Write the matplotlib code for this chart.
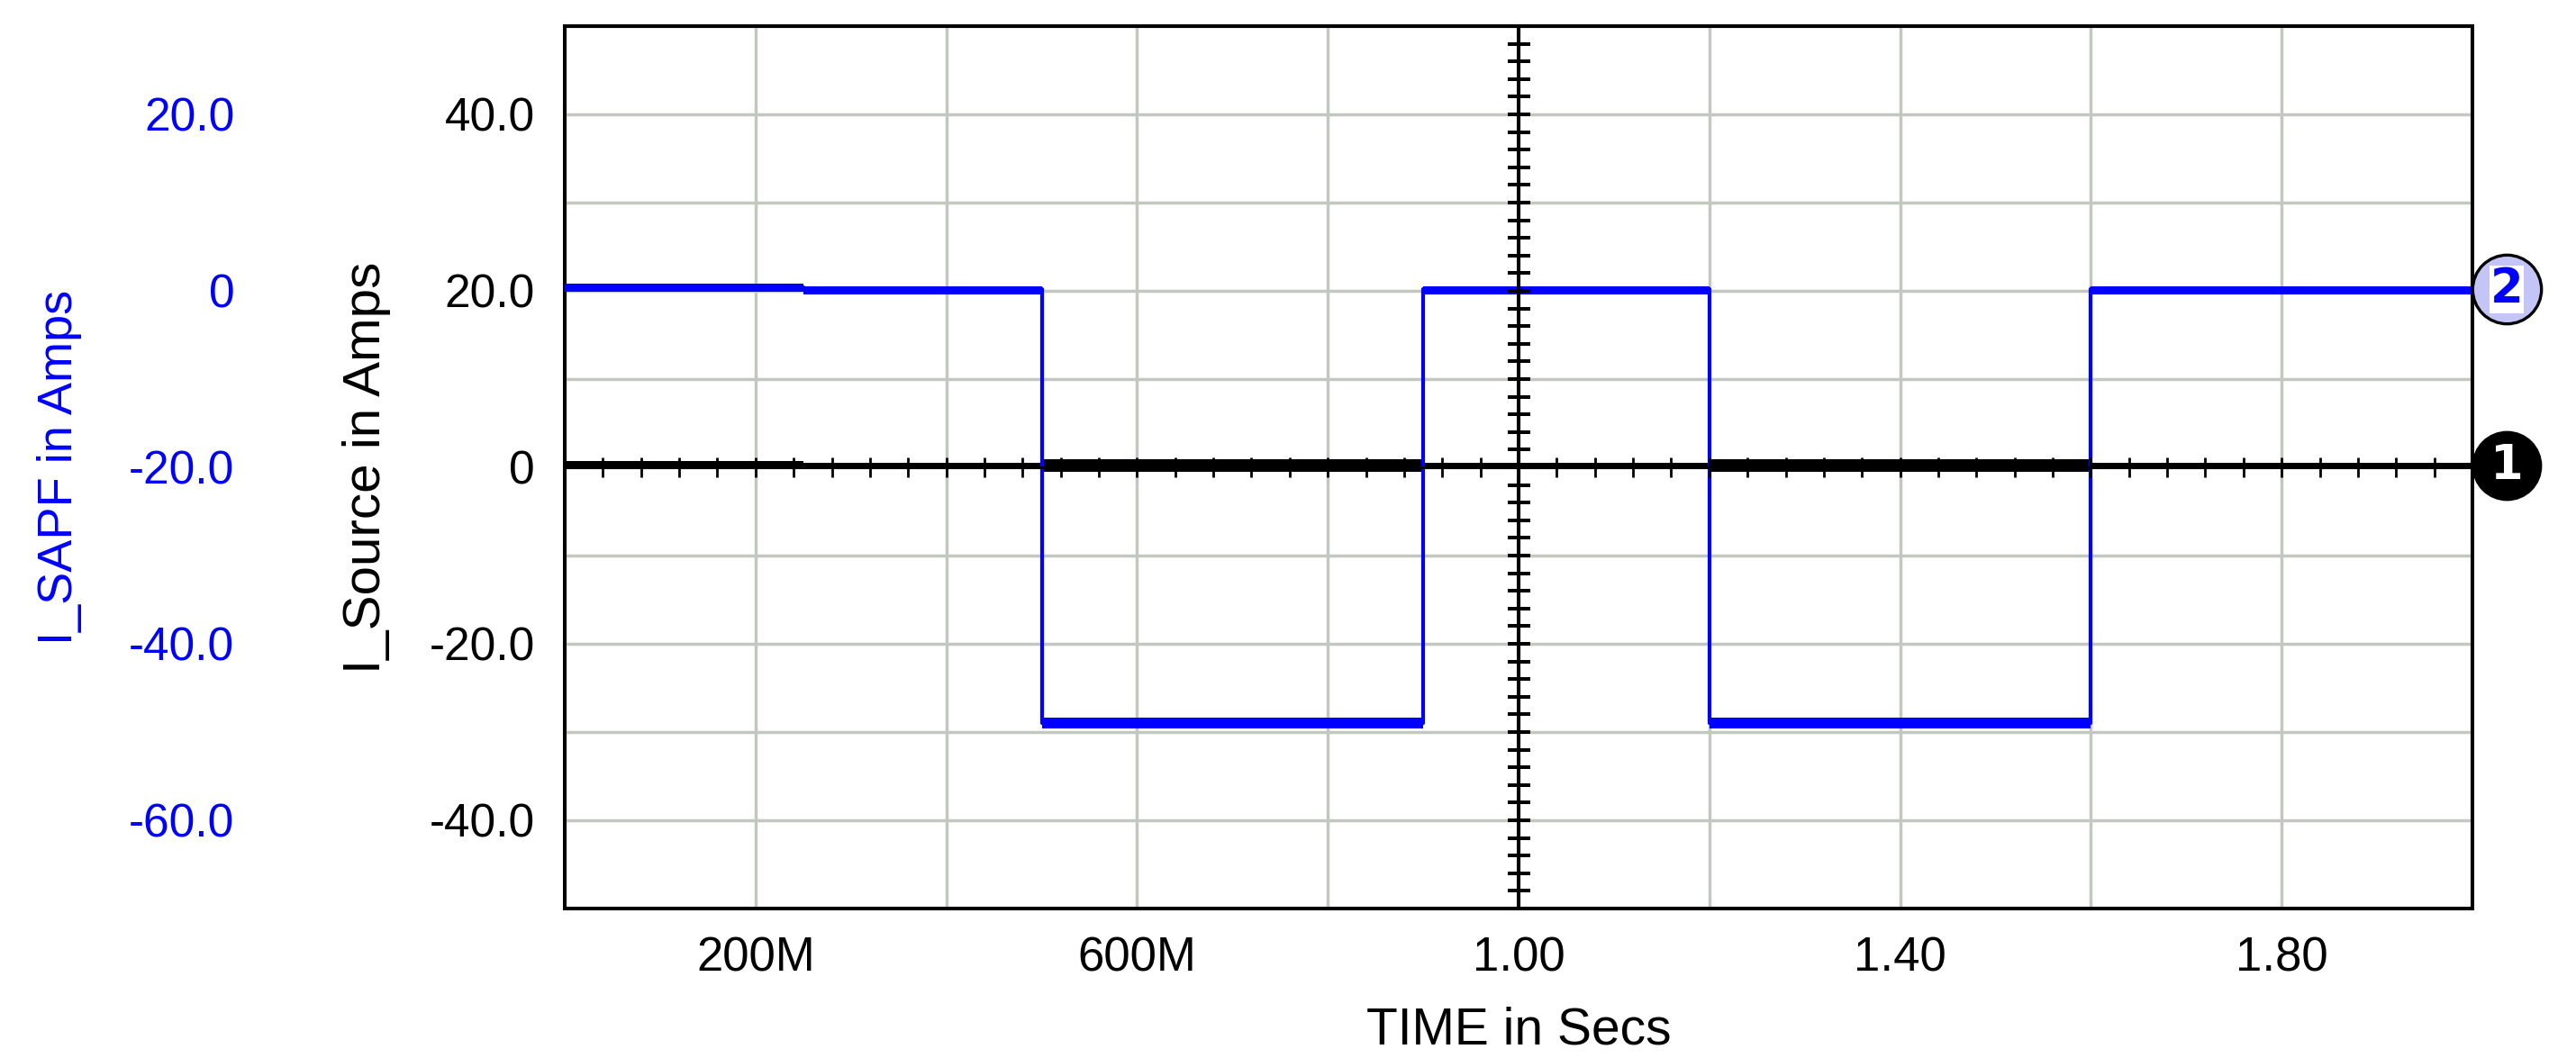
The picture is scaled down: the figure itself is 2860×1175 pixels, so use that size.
import numpy as np
import matplotlib
matplotlib.use("Agg")
import matplotlib.pyplot as plt
from matplotlib import font_manager
from matplotlib import transforms as mtransforms
from matplotlib.ticker import MultipleLocator, FixedLocator, FixedFormatter

# step waveform: one value per segment between edges
TIME_EDGES   = [0.0, 0.25, 0.5, 0.9, 1.2, 1.6, 2.0]
SAPF_LEVEL   = [0.4, 0.2, -49.0, 0.2, -49.0, 0.2]      # I_SAPF (blue axis)
SAPF_LOW     = [-0.1, -0.4, -49.6, -0.4, -49.6, -0.4]  # ripple envelope
SAPF_HIGH    = [0.8, 0.5, -48.4, 0.5, -48.4, 0.5]
SOURCE_LEVEL = [0.3, 0.2, 0.3, 0.2, 0.3, 0.2]          # I_Source (black axis)
SOURCE_LOW   = [-0.2, -0.2, -0.5, -0.2, -0.5, -0.2]
SOURCE_HIGH  = [0.7, 0.5, 0.9, 0.5, 0.9, 0.5]

X_TICKS       = [0.2, 0.6, 1.0, 1.4, 1.8]
X_TICK_LABELS = ["200M", "600M", "1.00", "1.40", "1.80"]
SOURCE_TICKS  = [-40, -20, 0, 20, 40]
SOURCE_LABELS = ["-40.0", "-20.0", "0", "20.0", "40.0"]
SAPF_TICKS    = [-60, -40, -20, 0, 20]
SAPF_LABELS   = ["-60.0", "-40.0", "-20.0", "0", "20.0"]

BLUE = "#0000ff"
GRID = "#c2c8c0"

plt.rcParams["font.family"] = ["Liberation Sans", "DejaVu Sans"]
names = {f.name for f in font_manager.fontManager.ttflist}
NARROW = "Liberation Sans Narrow" if "Liberation Sans Narrow" in names else "Liberation Sans"


def seg(vals):
    # repeat last value so step(where="post") reaches the last edge
    return list(vals) + [vals[-1]]


fig = plt.figure(figsize=(28.6, 11.75), dpi=100)
rect = [627 / 2860, 1 - 1009 / 1175, 2118 / 2860, 980 / 1175]
ax = fig.add_axes(rect)

ax.set_xlim(0, 2.0)
ax.set_ylim(-50, 50)
ax.xaxis.set_major_locator(FixedLocator(X_TICKS))
ax.xaxis.set_major_formatter(FixedFormatter(X_TICK_LABELS))
ax.xaxis.set_minor_locator(MultipleLocator(0.2))
ax.yaxis.set_major_locator(FixedLocator(SOURCE_TICKS))
ax.yaxis.set_major_formatter(FixedFormatter(SOURCE_LABELS))
ax.yaxis.set_minor_locator(MultipleLocator(10))
ax.grid(True, which="both", color=GRID, lw=2.5)
ax.set_axisbelow(True)
ax.tick_params(which="both", length=0)
ax.tick_params(axis="y", labelsize=37, pad=24)
ax.tick_params(axis="x", labelsize=38, pad=22)
for lab in ax.get_xticklabels():
    lab.set_fontfamily(NARROW)
for sp in ax.spines.values():
    sp.set_linewidth(2.9)

t = TIME_EDGES
ax.fill_between(t, seg(SOURCE_LOW), seg(SOURCE_HIGH), step="post", color="black", lw=0)
ax.step(t, seg(SOURCE_LEVEL), where="post", color="black", lw=2.2)

ax.set_ylabel("I_Source in Amps", fontsize=42)
ax.yaxis.set_label_coords(-0.091, 0.5)
ax.set_xlabel("TIME in Secs", fontsize=41, fontfamily=NARROW, va="top")
ax.xaxis.set_label_coords(0.5, -0.111)

# blue axis, placed further left
axb = ax.twinx()
axb.set_ylim(-70, 30)
axb.yaxis.tick_left()
axb.yaxis.set_label_position("left")
axb.spines["left"].set_position(("outward", 264))
for sp in axb.spines.values():
    sp.set_visible(False)
axb.yaxis.set_major_locator(FixedLocator(SAPF_TICKS))
axb.yaxis.set_major_formatter(FixedFormatter(SAPF_LABELS))
axb.tick_params(axis="y", length=0, pad=0, labelsize=37, labelcolor=BLUE)
axb.set_ylabel("I_SAPF in Amps", fontsize=39, color=BLUE)
axb.yaxis.set_label_coords(-0.253, 0.5)

axb.fill_between(t, seg(SAPF_LOW), seg(SAPF_HIGH), step="post", color=BLUE, lw=0)
axb.step(t, seg(SAPF_LEVEL), where="post", color=BLUE, lw=3)

# trace number badges at the right end of each trace
off_b = mtransforms.offset_copy(axb.transData, fig=fig, x=38, y=0, units="dots")
axb.plot([t[-1]], [SAPF_LEVEL[-1]], marker="o", ms=55, mfc="#c4c4f6", mec="black",
         mew=2.4, transform=off_b, clip_on=False, zorder=5)
axb.text(t[-1], SAPF_LEVEL[-1], "2", transform=off_b, ha="center", va="center",
         fontsize=38, fontweight="bold", color=BLUE, family="DejaVu Sans",
         bbox=dict(fc="white", ec="none", pad=0.5), clip_on=False, zorder=6)

off_a = mtransforms.offset_copy(ax.transData, fig=fig, x=38, y=0, units="dots")
ax.plot([t[-1]], [SOURCE_LEVEL[-1]], marker="o", ms=55, mfc="black", mec="black",
        transform=off_a, clip_on=False, zorder=5)
ax.text(t[-1], SOURCE_LEVEL[-1], "1", transform=off_a, ha="center", va="center",
        fontsize=38, fontweight="bold", color="white", family="DejaVu Sans",
        clip_on=False, zorder=6)

# crosshair axes through (1.0, 0) with fine ticks
axc = fig.add_axes(rect)
axc.set_xlim(0, 2.0)
axc.set_ylim(-50, 50)
axc.patch.set_visible(False)
axc.spines["top"].set_visible(False)
axc.spines["right"].set_visible(False)
axc.spines["left"].set_position(("data", 1.0))
axc.spines["bottom"].set_position(("data", 0))
axc.spines["left"].set_linewidth(2.9)
axc.spines["bottom"].set_linewidth(2.0)
axc.xaxis.set_major_locator(MultipleLocator(0.04))
axc.yaxis.set_major_locator(MultipleLocator(2))
axc.tick_params(axis="x", direction="inout", length=16, width=2.0, labelbottom=False)
axc.tick_params(axis="y", direction="inout", length=18, width=2.9, labelleft=False)

fig.savefig("out.png", dpi=100)
